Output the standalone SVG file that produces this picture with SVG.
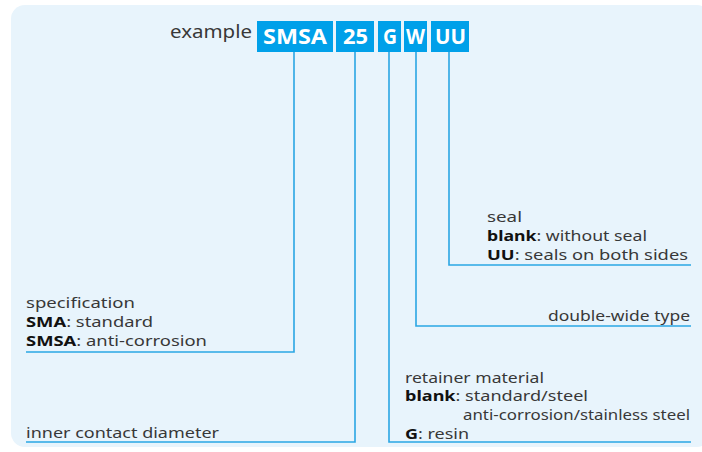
<svg xmlns="http://www.w3.org/2000/svg" width="702" height="452" viewBox="0 0 702 452">
<style>
.t{font-family:"Noto Sans","Liberation Sans",sans-serif;font-size:14px;fill:#383838}
.b{font-weight:bold;fill:#111}
.box{fill:#00A0E9}
.bt{font-family:"Noto Sans","Liberation Sans",sans-serif;font-size:22px;font-weight:bold;fill:#fff}
.ln{fill:none;stroke:#2AA6E3;stroke-width:1.6}
</style>
<rect x="11" y="5" width="700" height="442" rx="14" fill="#E8F4FC"/>
<g id="code">
<text class="t" x="170" y="38" style="font-size:18px" textLength="82" lengthAdjust="spacingAndGlyphs">example</text>
<rect class="box" x="257" y="21" width="76" height="31"/>
<text class="bt" x="263" y="44" textLength="64" lengthAdjust="spacingAndGlyphs">SMSA</text>
<rect class="box" x="336" y="21" width="38" height="31"/>
<text class="bt" x="343" y="44" textLength="25" lengthAdjust="spacingAndGlyphs">25</text>
<rect class="box" x="378" y="21" width="23" height="31"/>
<text class="bt" x="383" y="44" textLength="14" lengthAdjust="spacingAndGlyphs">G</text>
<rect class="box" x="404" y="21" width="23" height="31"/>
<text class="bt" x="406" y="44" textLength="19" lengthAdjust="spacingAndGlyphs">W</text>
<rect class="box" x="431" y="21" width="38" height="31"/>
<text class="bt" x="435" y="44" textLength="31" lengthAdjust="spacingAndGlyphs">UU</text>
</g>
<g id="connectors">
<polyline class="ln" points="294,52 294,352 26,352"/>
<polyline class="ln" points="355,52 355,442 26,442"/>
<polyline class="ln" points="389,52 389,442 691,442"/>
<polyline class="ln" points="416,52 416,326 691,326"/>
<polyline class="ln" points="449,52 449,265 691,265"/>
</g>
<g id="seal">
<text class="t" x="487" y="222" textLength="35" lengthAdjust="spacingAndGlyphs">seal</text>
<text class="t" x="487" y="241" textLength="160" lengthAdjust="spacingAndGlyphs"><tspan class="b">blank</tspan>: without seal</text>
<text class="t" x="487" y="260" textLength="201" lengthAdjust="spacingAndGlyphs"><tspan class="b">UU</tspan>: seals on both sides</text>
</g>
<g id="wide">
<text class="t" x="548" y="321" textLength="142" lengthAdjust="spacingAndGlyphs">double-wide type</text>
</g>
<g id="spec">
<text class="t" x="26" y="308" textLength="109" lengthAdjust="spacingAndGlyphs">specification</text>
<text class="t" x="26" y="327" textLength="127" lengthAdjust="spacingAndGlyphs"><tspan class="b">SMA</tspan>: standard</text>
<text class="t" x="26" y="346" textLength="181" lengthAdjust="spacingAndGlyphs"><tspan class="b">SMSA</tspan>: anti-corrosion</text>
</g>
<g id="retainer">
<text class="t" x="405" y="383" textLength="139" lengthAdjust="spacingAndGlyphs">retainer material</text>
<text class="t" x="405" y="401" textLength="183" lengthAdjust="spacingAndGlyphs"><tspan class="b">blank</tspan>: standard/steel</text>
<text class="t" x="463" y="420" textLength="227" lengthAdjust="spacingAndGlyphs">anti-corrosion/stainless steel</text>
<text class="t" x="405" y="439" textLength="64" lengthAdjust="spacingAndGlyphs"><tspan class="b">G</tspan>: resin</text>
</g>
<g id="diameter">
<text class="t" x="26" y="438" textLength="193" lengthAdjust="spacingAndGlyphs">inner contact diameter</text>
</g>
</svg>
